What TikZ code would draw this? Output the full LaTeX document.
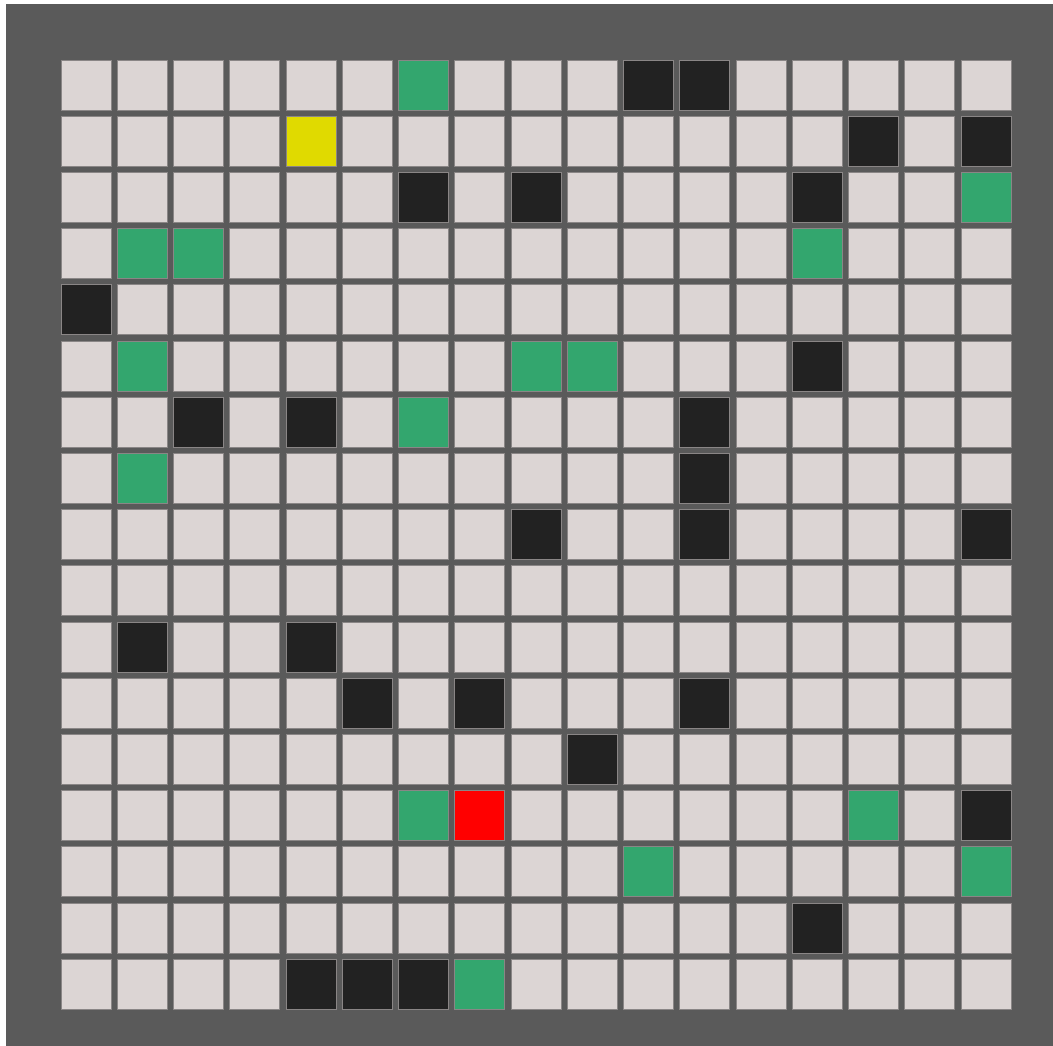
\documentclass[tikz,border=0pt]{standalone}
\definecolor{bgdark}{HTML}{5A5A5A}
\definecolor{cellgray}{HTML}{DCD5D4}
\definecolor{cellgreen}{HTML}{33A66E}
\definecolor{cellblack}{HTML}{222222}
\definecolor{cellyellow}{HTML}{E0DA00}
\definecolor{cellred}{HTML}{FF0000}
\definecolor{celledge}{HTML}{8A8686}
\tikzset{
  cell/.style={draw=celledge, line width=0.8pt, minimum size=50pt, inner sep=0pt, outer sep=0pt, anchor=north west},
}
\begin{document}
\begin{tikzpicture}[x=1pt,y=-1pt]
\useasboundingbox (0,0) rectangle (1053,1046);
\fill[white] (0,0) rectangle (1053,1046);
\fill[bgdark] (6,4) rectangle (1053,1046);
\foreach \r in {0,...,16}{
  \foreach \c in {0,...,16}{
    \node[cell, fill=cellgray] (c-\r-\c) at ({61+56.25*\c},{60+56.2*\r}) {};
  }
}
% black cells
\foreach \r/\c in {0/10,0/11,1/14,1/16,2/6,2/8,2/13,4/0,5/13,6/2,6/4,6/11,7/11,8/8,8/11,8/16,10/1,10/4,11/5,11/7,11/11,12/9,13/16,15/13,16/4,16/5,16/6}{
  \node[cell, fill=cellblack] (b-\r-\c) at ({61+56.25*\c},{60+56.2*\r}) {};
}
% green cells
\foreach \r/\c in {0/6,2/16,3/1,3/2,3/13,5/1,5/8,5/9,6/6,7/1,13/6,13/14,14/10,14/16,16/7}{
  \node[cell, fill=cellgreen] (g-\r-\c) at ({61+56.25*\c},{60+56.2*\r}) {};
}
\node[cell, fill=cellyellow] (start) at ({61+56.25*4},{60+56.2*1}) {};
\node[cell, fill=cellred] (goal) at ({61+56.25*7},{60+56.2*13}) {};
\end{tikzpicture}
\end{document}
